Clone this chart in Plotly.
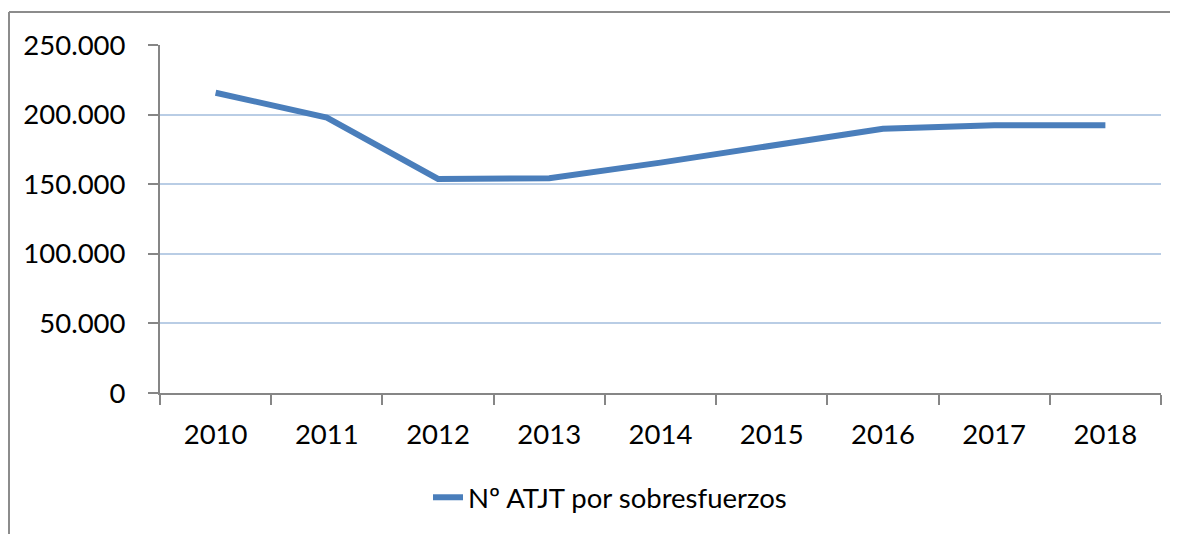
import plotly.graph_objects as go

years = ["2010", "2011", "2012", "2013", "2014", "2015", "2016", "2017", "2018"]
values = [215700, 197900, 153800, 154300, 165500, 177800, 189900, 192400, 192400]
series_name = "Nº ATJT por sobresfuerzos"
y_ticks = [0, 50000, 100000, 150000, 200000, 250000]

FONT = "Lato, 'Open Sans', sans-serif"
FS = 27.5
OFF = 8  # page body margin
W, H = 1178 - OFF, 534 - OFF
# plot area edges in page pixels
PL, PR, PT, PB = 160, 1161, 45, 392.7
L, T = PL - OFF, PT - OFF
R = W - (PR - OFF)
B = H - (PB - OFF)
pw, ph = W - L - R, H - T - B

def px_x(p):
    return (p - PL) / pw

def px_y(p):
    return (PB - p) / ph

fig = go.Figure()
fig.add_trace(go.Scatter(
    x=years, y=values, mode="lines", name=series_name,
    line=dict(color="#4A7EBB", width=6),
))

fig.update_layout(
    width=W, height=H,
    margin=dict(l=L, r=R, t=T, b=B, pad=0),
    paper_bgcolor="white", plot_bgcolor="white",
    separators=",.",
    font=dict(family=FONT, size=FS, color="black"),
    showlegend=True,
    legend=dict(
        orientation="h", x=px_x(428), y=px_y(497), xanchor="left", yanchor="middle",
        font=dict(family=FONT, size=FS, color="black"),
        bgcolor="rgba(0,0,0,0)",
    ),
    xaxis=dict(
        type="category", tickson="boundaries",
        showline=True, linecolor="#868686", linewidth=2,
        ticks="outside", ticklen=10, tickwidth=2, tickcolor="#868686",
        showgrid=False, ticklabelstandoff=16,
        tickfont=dict(family=FONT, size=FS, color="black"),
        range=[-0.5, 8.5],
    ),
    yaxis=dict(
        range=[0, 250000], tickvals=y_ticks, tickformat=",d",
        showline=True, linecolor="#868686", linewidth=2,
        ticks="outside", ticklen=10, tickwidth=2, tickcolor="#868686",
        showgrid=True, gridcolor="#B9CDE5", gridwidth=2,
        zeroline=False, ticklabelstandoff=17,
        tickfont=dict(family=FONT, size=FS, color="black"),
    ),
    shapes=[
        dict(type="line", xref="paper", yref="paper",
             x0=px_x(9), x1=px_x(1190), y0=px_y(12), y1=px_y(12),
             line=dict(color="#8C8C8C", width=2)),
        dict(type="line", xref="paper", yref="paper",
             x0=px_x(9), x1=px_x(9), y0=px_y(12), y1=px_y(545),
             line=dict(color="#8C8C8C", width=2)),
    ],
)

fig.write_html("out.html")
